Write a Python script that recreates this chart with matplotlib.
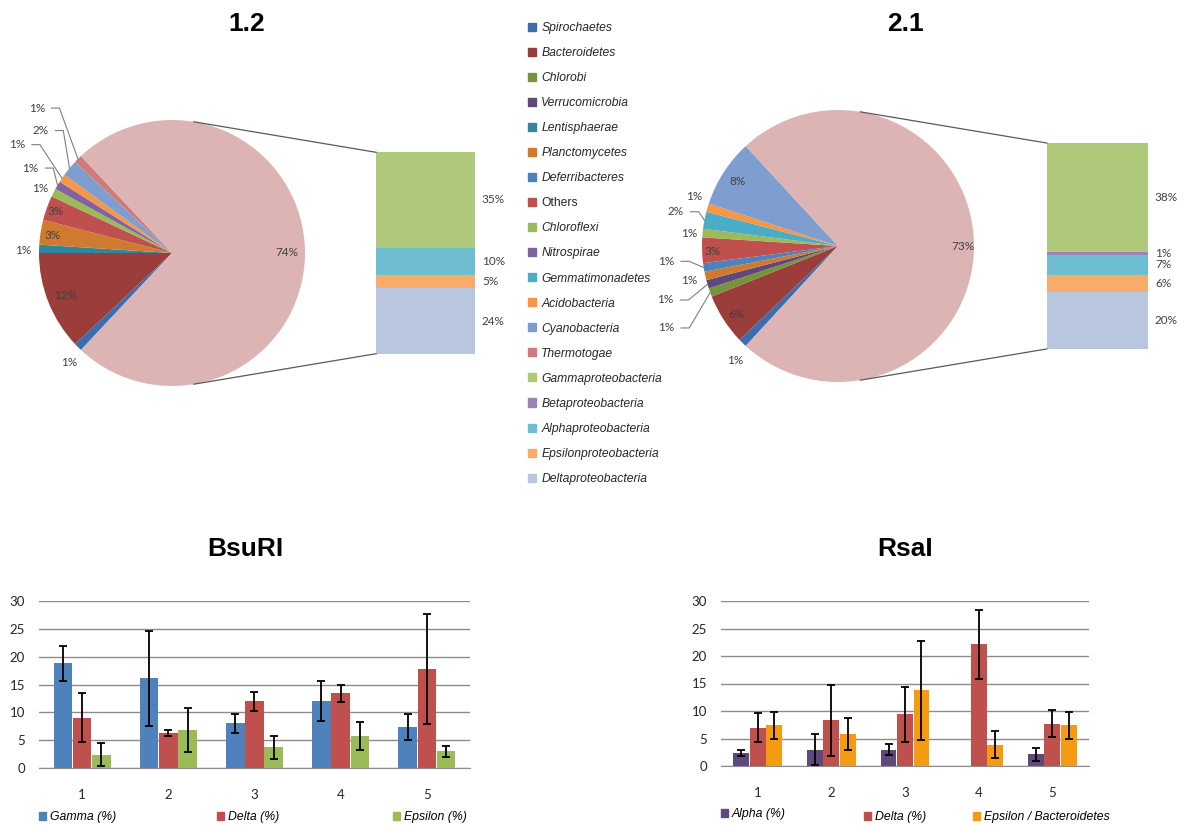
import matplotlib.pyplot as plt
import numpy as np
from matplotlib.patches import Patch

plt.rcParams['font.family'] = ['Liberation Sans', 'DejaVu Sans']

W, H = 1188, 827

# community composition (%), phyla in legend order
phyla = ["Spirochaetes", "Bacteroidetes", "Chlorobi", "Verrucomicrobia", "Lentisphaerae",
         "Planctomycetes", "Deferribacteres", "Others", "Chloroflexi", "Nitrospirae",
         "Gemmatimonadetes", "Acidobacteria", "Cyanobacteria", "Thermotogae"]
classes = ["Gammaproteobacteria", "Betaproteobacteria", "Alphaproteobacteria",
           "Epsilonproteobacteria", "Deltaproteobacteria"]

phyla_12 = [1, 12, 0, 0, 1, 3, 0, 3, 1, 1, 0, 1, 2, 1]
proteo_12 = 74
classes_12 = [35, 0, 10, 5, 24]

phyla_21 = [1, 6, 1, 1, 0, 1, 1, 3, 1, 0, 2, 1, 8, 0]
proteo_21 = 73
classes_21 = [38, 1, 7, 6, 20]

phyla_colors = ["#3A6EB0", "#9B3D3A", "#77933C", "#5F497A", "#31869B", "#D07A30", "#4F81BD",
                "#C0504D", "#9BBB59", "#8064A2", "#4BACC6", "#F79646", "#7F9ED0", "#CF7B79"]
class_colors = ["#AFC97A", "#9983B5", "#6FBDD1", "#F9AB6B", "#B8C6E0"]
proteo_color = "#DDB4B4"

# restriction fragment abundances per sample (%), with error
samples = [1, 2, 3, 4, 5]
bsu_gamma = [18.8, 16.1, 8.0, 12.0, 7.4]
bsu_gamma_err = [3.2, 8.5, 1.7, 3.6, 2.3]
bsu_delta = [9.0, 6.3, 12.0, 13.4, 17.8]
bsu_delta_err = [4.4, 0.5, 1.7, 1.5, 9.9]
bsu_eps = [2.4, 6.8, 3.7, 5.8, 3.0]
bsu_eps_err = [2.1, 4.0, 2.1, 2.5, 1.0]

rsa_alpha = [2.4, 3.0, 3.0, 0, 2.1]
rsa_alpha_err = [0.6, 2.9, 1.0, np.nan, 1.1]
rsa_delta = [7.0, 8.3, 9.4, 22.1, 7.7]
rsa_delta_err = [2.6, 6.5, 5.0, 6.2, 2.5]
rsa_eps = [7.4, 5.8, 13.8, 3.9, 7.4]
rsa_eps_err = [2.4, 2.9, 9.0, 2.4, 2.4]

NUM = dict(fontfamily="Lato", fontsize=8.5, color="#404040")


def px_axes(cx, cy, r, xlim, ylim):
    # axes whose data units are pie radii, placed by pixel centre
    left, right = cx + xlim[0] * r, cx + xlim[1] * r
    top, bottom = cy - ylim[1] * r, cy - ylim[0] * r
    ax = fig.add_axes([left / W, 1 - bottom / H, (right - left) / W, (bottom - top) / H])
    return ax


def bar_of_pie(ax, xlim, ylim, pvals, proteo, cvals, labels):
    vals = pvals + [proteo]
    total = sum(vals)
    other_deg = 360 * sum(pvals) / total
    wedges, _ = ax.pie(vals, colors=phyla_colors + [proteo_color], startangle=180 + other_deg / 2,
                       counterclock=False, radius=1, center=(0, 0),
                       wedgeprops=dict(linewidth=0))
    ax.set_aspect("auto")
    ax.set_xlim(xlim)
    ax.set_ylim(ylim)
    ax.axis("off")

    names = phyla + ["proteo"]
    for name, w, v in zip(names, wedges, vals):
        if name not in labels:
            continue
        r, shift, leader = labels[name]
        mid = np.radians((w.theta1 + w.theta2) / 2)
        a = mid + np.radians(shift)
        tx, ty = r * np.cos(a), r * np.sin(a)
        ax.text(tx, ty, f"{v}%", ha="center", va="center", **NUM)
        if leader:
            ax.plot([tx + 0.11, tx + 0.17, np.cos(mid)], [ty, ty, np.sin(mid)],
                    color="#7F7F7F", lw=0.8)

    # stacked bar for the proteobacteria classes
    bx0, bx1, bh = 1.535, 2.28, 0.757
    heights = np.array(cvals[::-1], float) / sum(cvals) * 2 * bh
    bottoms = -bh + np.concatenate([[0], np.cumsum(heights)[:-1]])
    ax.bar([(bx0 + bx1) / 2] * len(heights), heights, bottom=bottoms, width=bx1 - bx0,
           color=class_colors[::-1], linewidth=0)
    for v, hgt, b in zip(cvals[::-1], heights, bottoms):
        if v > 0:
            ax.text(bx1 + 0.05, b + hgt / 2, f"{v}%", ha="left", va="center", **NUM)

    # tangent connector lines from the pie to the bar corners
    for sgn in (1, -1):
        d = np.hypot(bx0, bh)
        t = np.arctan2(bh, bx0) + np.arccos(1 / d)
        ax.plot([np.cos(t), bx0], [sgn * np.sin(t), sgn * bh], color="#595959", lw=0.9)


fig = plt.figure(figsize=(W / 100, H / 100), dpi=100)

# label layout: radius, angle shift (deg), leader line
lab_12 = {"Spirochaetes": (1.13, 1.6, False), "Bacteroidetes": (0.86, 0, False),
          "Lentisphaerae": (1.12, 0.8, False), "Planctomycetes": (0.91, 0.8, False),
          "Others": (0.93, 0, False), "Chloroflexi": (1.1, 1, False),
          "Nitrospirae": (1.24, -0.4, True), "Acidobacteria": (1.42, -0.8, True),
          "Cyanobacteria": (1.35, -3.4, True), "Thermotogae": (1.49, -2, True),
          "proteo": (0.86, 0, False)}
lab_21 = {"Spirochaetes": (1.13, 2.5, False), "Bacteroidetes": (0.9, 1.3, False),
          "Chlorobi": (1.40, 5.5, True), "Verrucomicrobia": (1.33, 1, True),
          "Planctomycetes": (1.12, 0.3, False), "Deferribacteres": (1.27, -4, True),
          "Others": (0.92, 0.5, False), "Chloroflexi": (1.1, 0.5, False),
          "Gemmatimonadetes": (1.22, -1, True), "Acidobacteria": (1.12, -2.6, False),
          "Cyanobacteria": (0.88, 0, False), "proteo": (0.92, 0, False)}

xl1, yl1 = (-1.29, 2.5), (-1.05, 1.9)
ax1 = px_axes(172, 253, 133, xl1, yl1)
bar_of_pie(ax1, xl1, yl1, phyla_12, proteo_12, classes_12, lab_12)

xl2, yl2 = (-1.4, 2.5), (-1.05, 1.8)
ax2 = px_axes(838, 246, 136, xl2, yl2)
bar_of_pie(ax2, xl2, yl2, phyla_21, proteo_21, classes_21, lab_21)

fig.text(247 / W, 1 - 24 / H, "1.2", ha="center", va="center", fontsize=19, fontweight="bold")
fig.text(905 / W, 1 - 24 / H, "2.1", ha="center", va="center", fontsize=19, fontweight="bold")

handles = [Patch(color=c, label=n) for n, c in zip(phyla + classes, phyla_colors + class_colors)]
leg = fig.legend(handles=handles, loc="upper left", bbox_to_anchor=(528 / W, 1 - 22 / H),
                 frameon=False, prop=dict(style="italic", size=8.7), handlelength=0.65,
                 handleheight=0.65, handletextpad=0.45, labelspacing=1.08, borderpad=0,
                 borderaxespad=0)
for t in leg.get_texts():
    t.set_color("#262626")
leg.get_texts()[phyla.index("Others")].set_style("normal")


def grouped_bars(rect, series, errs, colors, names, title, title_x, leg_pos):
    ax = fig.add_axes([rect[0] / W, 1 - rect[3] / H, (rect[2] - rect[0]) / W, (rect[3] - rect[1]) / H])
    x = np.array(samples, float)
    for off, v, e, c in zip([-0.223, 0, 0.223], series, errs, colors):
        ax.bar(x + off, v, width=0.215, color=c, yerr=e, capsize=2.8,
               error_kw=dict(ecolor="black", elinewidth=1.3, capthick=1.3))
    ax.set_xlim(0.5, 5.5)
    ax.set_ylim(0, 30)
    ax.set_yticks(range(0, 31, 5))
    ax.set_xticks(samples)
    ax.yaxis.grid(True, color="#8C8C8C", lw=1)
    ax.set_axisbelow(True)
    for s in ("top", "right", "left"):
        ax.spines[s].set_visible(False)
    ax.spines["bottom"].set_color("#8C8C8C")
    ax.tick_params(axis="both", length=0, labelsize=9.5, labelcolor="#262626")
    ax.tick_params(axis="y", pad=10)
    ax.tick_params(axis="x", pad=15)
    for t in ax.get_xticklabels() + ax.get_yticklabels():
        t.set_fontfamily("Lato")
    fig.text(title_x / W, 1 - 549 / H, title, ha="center", va="center", fontsize=19,
             fontweight="bold")
    for n, c, (lx, ly) in zip(names, colors, leg_pos):
        fig.legend(handles=[Patch(color=c, label=n)], loc="center left",
                   bbox_to_anchor=(lx / W, 1 - ly / H), frameon=False,
                   prop=dict(style="italic", size=8.8), handlelength=0.6, handleheight=0.6,
                   handletextpad=0.3, borderpad=0, borderaxespad=0)
    return ax


grouped_bars((39, 601, 470, 768), [bsu_gamma, bsu_delta, bsu_eps],
             [bsu_gamma_err, bsu_delta_err, bsu_eps_err],
             ["#4F81BD", "#C0504D", "#9BBB59"],
             ["Gamma (%)", "Delta (%)", "Epsilon (%)"], "BsuRI", 245,
             [(39, 817), (217, 817), (393, 817)])

grouped_bars((721, 601, 1089, 766), [rsa_alpha, rsa_delta, rsa_eps],
             [rsa_alpha_err, rsa_delta_err, rsa_eps_err],
             ["#5F497A", "#C0504D", "#F59B12"],
             ["Alpha (%)", "Delta (%)", "Epsilon / Bacteroidetes"], "RsaI", 905,
             [(721, 814), (864, 817), (973, 817)])

fig.savefig("out.png", dpi=100)
